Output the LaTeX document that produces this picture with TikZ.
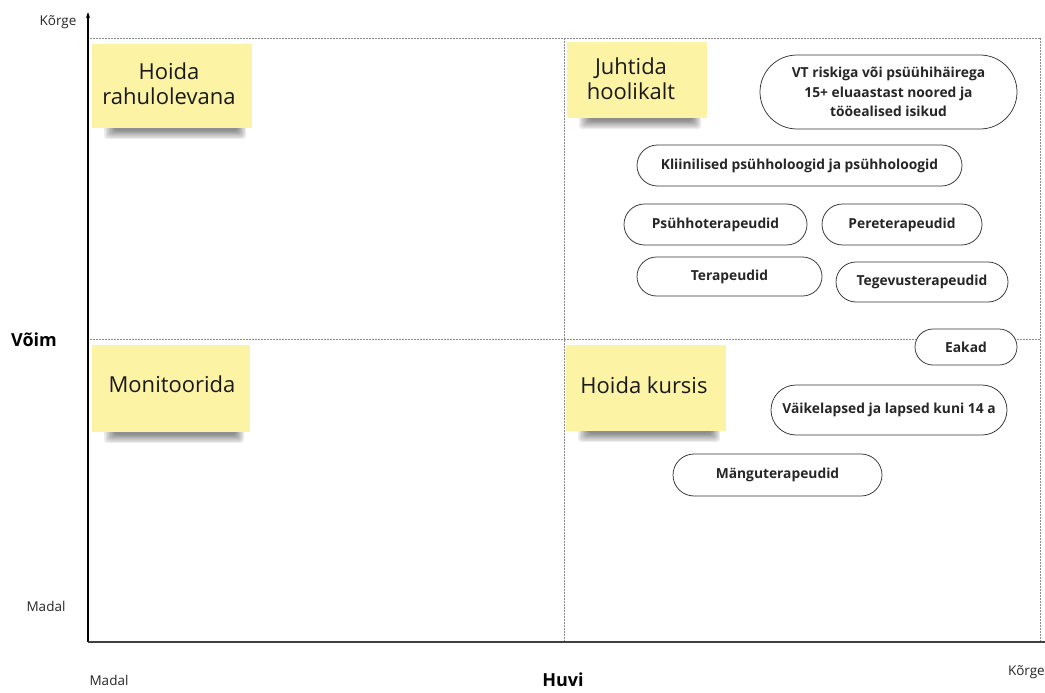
\documentclass[tikz,border=0pt]{standalone}
\usepackage{fontspec}
\setmainfont{Open Sans}
\usetikzlibrary{shapes.misc,arrows.meta}
\definecolor{notefill}{RGB}{252,243,165}
\definecolor{gridgray}{RGB}{140,140,140}
\tikzset{
  note/.style={fill=notefill, inner sep=0pt, anchor=north west},
  notetext/.style={font=\fontsize{22}{25}\selectfont, align=center, text=black!90},
  pill/.style={draw=black!80, line width=0.75pt, rounded rectangle, fill=white,
    font=\bfseries\fontsize{13.8}{19.5}\selectfont, align=center, inner sep=0pt,
    text=black!85},
  axislabel/.style={font=\fontsize{13.5}{15}\selectfont, text=black!85},
  axistitle/.style={font=\bfseries\fontsize{18}{20}\selectfont},
  grid/.style={gridgray, line width=0.5pt, densely dotted},
}
% soft shadow under a sticky note: x1, x2, bottom y
\newcommand{\noteshadow}[3]{%
  \foreach \i in {0,...,7}{
    \fill[black, opacity=0.07, rounded corners=3pt]
      (#1+12+1.5*\i,#3-4) rectangle (#2-6-1.2*\i,#3+11-1.2*\i);
  }%
}
\begin{document}
\begin{tikzpicture}[x=1pt,y=-1pt]
\useasboundingbox (0,0) rectangle (1045,693);
% quadrant frame
\draw[grid] (88,38) -- (1040,38);
\draw[grid] (88,339) -- (1040,339);
\draw[grid] (564,38) -- (564,642);
\draw[grid] (1040,38) -- (1040,642);
% axes
\coordinate (origin) at (88,642);
\coordinate (ytop) at (88,12);
\coordinate (xend) at (1045,642);
\draw[line width=1.1pt, -{Stealth[length=6pt,width=4pt]}] (origin) -- (ytop);
\draw[line width=1.3pt, black!75] (origin) -- (xend);
% sticky notes with soft shadows
\noteshadow{92}{252}{128}
\node[note, minimum width=160pt, minimum height=84pt] (n1) at (92,44) {};
\noteshadow{567}{707}{118}
\node[note, minimum width=140pt, minimum height=76pt] (n2) at (567,42) {};
\noteshadow{92}{250}{432}
\node[note, minimum width=158pt, minimum height=87pt] (n3) at (92,345) {};
\noteshadow{566}{726}{431}
\node[note, minimum width=160pt, minimum height=86pt] (n4) at (566,345) {};
\node[notetext] (t1) at (169,84) {Hoida\\rahulolevana};
\node[notetext] (t2) at (631,79) {Juhtida\\hoolikalt};
\node[notetext] (t3) at (172,384) {Monitoorida};
\node[notetext] (t4) at (644,385) {Hoida kursis};
% stakeholder groups
\node[pill, minimum width=257pt, minimum height=74pt] (vt) at (888.5,92)
  {VT riskiga või psüühihäirega\\15+ eluaastast noored ja\\tööealised isikud};
\node[pill, minimum width=325pt, minimum height=41pt] (kl) at (799.5,165.5)
  {Kliinilised psühholoogid ja psühholoogid};
\node[pill, minimum width=183pt, minimum height=41pt] (ps) at (715.5,224.5)
  {Psühhoterapeudid};
\node[pill, minimum width=160pt, minimum height=41pt] (pe) at (902,224.5)
  {Pereterapeudid};
\node[pill, minimum width=185pt, minimum height=39pt] (te) at (729.5,276.5)
  {Terapeudid};
\node[pill, minimum width=172pt, minimum height=40pt] (tg) at (922,282)
  {Tegevusterapeudid};
\node[pill, minimum width=102pt, minimum height=36pt] (ea) at (966,347)
  {Eakad};
\node[pill, minimum width=236pt, minimum height=50pt] (va) at (889,410)
  {Väikelapsed ja lapsed kuni 14 a};
\node[pill, minimum width=209pt, minimum height=42pt] (ma) at (777.5,475)
  {Mänguterapeudid};
% axis labels
\node[axislabel] (ykorge) at (58,22) {Kõrge};
\node[axislabel] (ymadal) at (46,606) {Madal};
\node[axislabel] (xmadal) at (109,680) {Madal};
\node[axislabel, anchor=east, inner xsep=0pt] (xkorge) at (1045,672) {Kõrge};
\node[axistitle] (vo) at (34,340) {Võim};
\node[axistitle] (hu) at (563,680) {Huvi};
\end{tikzpicture}
\end{document}
